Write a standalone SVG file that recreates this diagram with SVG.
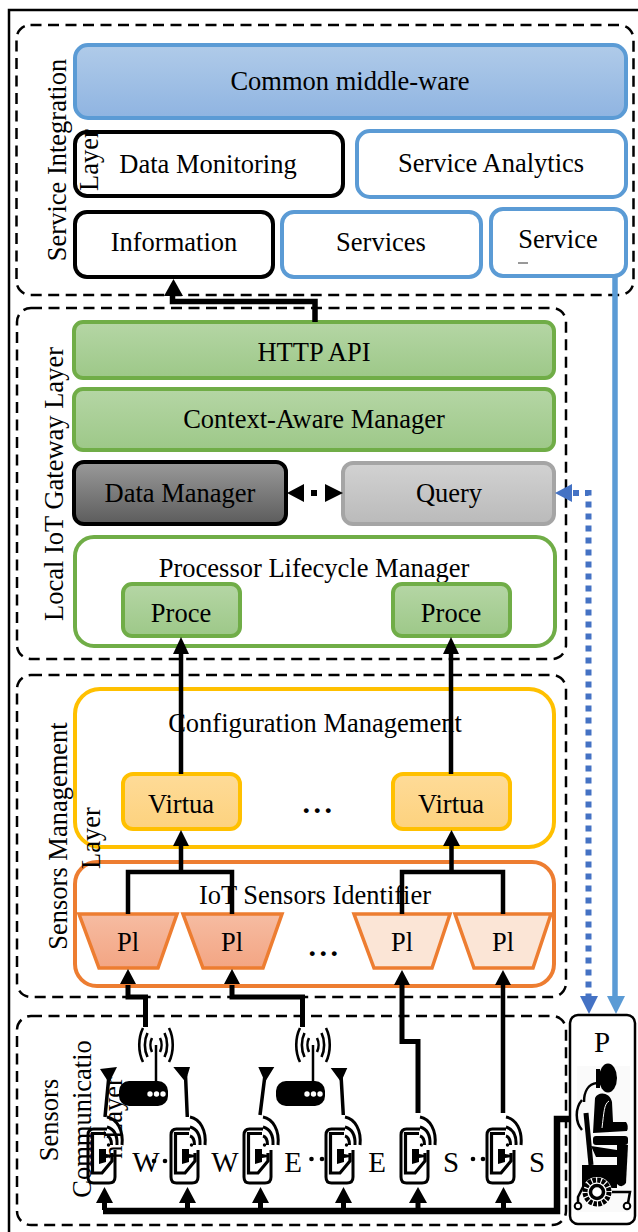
<svg xmlns="http://www.w3.org/2000/svg" width="638" height="1232" viewBox="0 0 638 1232">
<style>
text{font-family:"Liberation Serif","Times New Roman",serif;font-size:26.500px;fill:#000;text-anchor:middle}
.dash{fill:none;stroke:#000;stroke-width:2.500;stroke-dasharray:11 6.500}
.n{stroke-width:4}
.blue{stroke:#5b9bd5}.blk{stroke:#000}.grn{stroke:#70ad47}.w{fill:#fff}
.c{fill:none;stroke:#000;stroke-width:4.500}
.ant{fill:none;stroke:#000;stroke-width:2.600}
.big{font-size:29px}
.dots{font-size:30px;font-weight:bold;letter-spacing:3.500px}
</style>
<defs>
<linearGradient id="gb" x1="0" y1="0" x2="0" y2="1"><stop offset="0" stop-color="#b0cbe9"/><stop offset="1" stop-color="#8fb4e1"/></linearGradient>
<linearGradient id="gg" x1="0" y1="0" x2="0" y2="1"><stop offset="0" stop-color="#b5d6a5"/><stop offset="1" stop-color="#9dc888"/></linearGradient>
<linearGradient id="gd" x1="0" y1="0" x2="0" y2="1"><stop offset="0" stop-color="#9a9a9a"/><stop offset="1" stop-color="#5c5c5c"/></linearGradient>
<linearGradient id="gq" x1="0" y1="0" x2="0" y2="1"><stop offset="0" stop-color="#d2d2d2"/><stop offset="1" stop-color="#bababa"/></linearGradient>
<linearGradient id="gy" x1="0" y1="0" x2="0" y2="1"><stop offset="0" stop-color="#fedb98"/><stop offset="1" stop-color="#fdd27e"/></linearGradient>
<linearGradient id="go" x1="0" y1="0" x2="0" y2="1"><stop offset="0" stop-color="#f6bca2"/><stop offset="1" stop-color="#f3a583"/></linearGradient>
<g id="tag">
<path d="M20 9H6.500Q1 9 1 15V57Q1 63 6.500 63H22Q28 63 28 57V30" fill="none" stroke="#000" stroke-width="3"/>
<path d="M19 13.500H5.500V53H15L25 41V33" fill="none" stroke="#000" stroke-width="3.200"/>
<path d="M12 29H19V34L25 35V37L19 38V42L12 44Z" fill="#000"/>
<path d="M20 -3C30 -1 36.500 10 35 25M20 7C27 9 30.500 15 30 25M20 16C23.500 17 24.500 21 24.500 25" fill="none" stroke="#000" stroke-width="3"/>
<circle cx="21.500" cy="25" r="1.700" fill="#000"/>
</g>
<g id="router">
<rect x="0" y="55" width="49" height="25" rx="10" fill="#000"/>
<circle cx="31" cy="68" r="2.700" fill="#fff"/><circle cx="37.500" cy="68" r="2.700" fill="#fff"/><circle cx="44" cy="68" r="2.700" fill="#fff"/>
<path d="M37 19V57" stroke="#000" stroke-width="2.500"/>
<path d="M33 12C31 16 31 22 33 26M41 12C43 16 43 22 41 26M28.500 7C25 14 25 24 28.500 31M45.500 7C49 14 49 24 45.500 31M24 2C19 12 19 26 24 36M50 2C55 12 55 26 50 36" class="ant"/>
</g>
</defs>

<path d="M9 1232V10H638" fill="none" stroke="#000" stroke-width="2.500"/>

<g id="layers">
<rect class="dash" x="16.500" y="25" width="617" height="270" rx="14"/>
<rect class="dash" x="17" y="308" width="549" height="351" rx="14"/>
<rect class="dash" x="17" y="675" width="549" height="322" rx="14"/>
<rect class="dash" x="17" y="1016" width="549" height="209" rx="14"/>
</g>

<g id="common"><rect class="n blue" x="75" y="45" width="551" height="73" rx="13" fill="url(#gb)"/><text x="350" y="90">Common middle-ware</text></g>
<g id="monitoring"><rect class="n blk w" x="75" y="132" width="268" height="64" rx="12"/><text x="208" y="173">Data Monitoring</text></g>
<g id="analytics"><rect class="n blue w" x="357" y="131" width="269" height="66" rx="13"/><text x="491" y="172">Service Analytics</text></g>
<g id="information"><rect class="n blk w" x="75" y="212" width="198" height="65" rx="12"/><text x="174" y="251">Information</text></g>
<g id="services"><rect class="n blue w" x="282" y="212" width="199" height="65" rx="12"/><text x="381" y="251">Services</text></g>
<g id="service"><rect class="n blue w" x="491" y="209" width="135" height="67" rx="12"/><text x="558" y="248">Service</text><path d="M518 263H528" stroke="#333" stroke-width="1"/></g>

<g id="http"><rect class="n grn" x="74" y="322" width="480" height="56" rx="9" fill="url(#gg)"/><text x="314" y="361">HTTP API</text></g>
<g id="context"><rect class="n grn" x="74" y="389" width="480" height="61" rx="9" fill="url(#gg)"/><text x="314" y="428">Context-Aware Manager</text></g>
<g id="datamgr"><rect class="n blk" x="74" y="462" width="212" height="62" rx="10" fill="url(#gd)"/><text x="180" y="502">Data Manager</text></g>
<g id="query"><rect x="343" y="463" width="211" height="61" rx="10" fill="url(#gq)" stroke="#a5a5a5" stroke-width="4"/><text x="449" y="502">Query</text></g>
<g id="lifecycle"><rect class="n grn w" x="75" y="537" width="480" height="109" rx="19"/><text x="314" y="577">Processor Lifecycle Manager</text></g>
<g id="proc1"><rect class="n grn" x="123" y="584" width="117" height="52" rx="9" fill="url(#gg)"/><text x="181" y="622">Proce</text></g>
<g id="proc2"><rect class="n grn" x="393" y="584" width="117" height="52" rx="9" fill="url(#gg)"/><text x="451" y="622">Proce</text></g>

<g id="config"><rect x="75" y="689" width="479" height="158" rx="25" fill="#fff" stroke="#ffc000" stroke-width="4"/><text x="315" y="732">Configuration Management</text></g>
<g id="virt1"><rect x="123" y="774" width="117" height="55" rx="10" fill="url(#gy)" stroke="#ffc000" stroke-width="4"/><text x="181" y="813">Virtua</text></g>
<g id="virt2"><rect x="393" y="774" width="117" height="55" rx="10" fill="url(#gy)" stroke="#ffc000" stroke-width="4"/><text x="451" y="813">Virtua</text></g>
<g id="iot"><rect x="75" y="862" width="479" height="124" rx="22" fill="#fff" stroke="#ed7d31" stroke-width="4"/><text x="315" y="904">IoT Sensors Identifier</text></g>
<g id="pl1"><path d="M79 914H177L158 968H99Z" fill="url(#go)" stroke="#ed7d31" stroke-width="3.500"/><text x="128" y="951">Pl</text></g>
<g id="pl2"><path d="M183 914H282L263 968H203Z" fill="url(#go)" stroke="#ed7d31" stroke-width="3.500"/><text x="232" y="951">Pl</text></g>
<g id="pl3"><path d="M354 914H450L432 968H374Z" fill="#fbe5d6" stroke="#ed7d31" stroke-width="3.500"/><text x="402" y="951">Pl</text></g>
<g id="pl4"><path d="M455 914H551L533 968H474Z" fill="#fbe5d6" stroke="#ed7d31" stroke-width="3.500"/><text x="503" y="951">Pl</text></g>

<g id="connectors">
<path class="c" d="M315 322V301.500H172.500V292" style="stroke-width:5.500"/><path d="M164 296H183L173.500 279Z" fill="#000"/>
<path class="c" d="M181 774V650"/><path d="M173 654H189L181 637Z" fill="#000"/>
<path class="c" d="M451 774V650"/><path d="M443 654H459L451 637Z" fill="#000"/>
<path class="c" d="M128 914V872H232V914M181 872V845"/><path d="M173 846H189L181 830Z" fill="#000"/>
<path class="c" d="M402 914V872H503V914M451.500 872V845"/><path d="M443 846H460L451.500 830Z" fill="#000"/>
<path class="c" d="M128 985V997H145.500V1027" style="stroke-width:5"/><path d="M120 984H136L128 969Z" fill="#000"/>
<path class="c" d="M232 985V997H302.500V1027" style="stroke-width:5"/><path d="M224 984H240L232 969Z" fill="#000"/>
<path class="c" d="M402 985V1041.500H418V1113" style="stroke-width:5"/><path d="M394 985H410L402 970Z" fill="#000"/>
<path class="c" d="M503 985V1113"/><path d="M495 985H511L503 970Z" fill="#000"/>
<path d="M103 1211H557V1119H570" fill="none" stroke="#000" stroke-width="6.500"/>
<path d="M96 1203H113L104.500 1187Z M179 1203H196L187.500 1187Z M252 1203H269L260.500 1187Z M335 1203H352L343.500 1187Z M409 1203H427L418 1187Z M495 1203H512L503.500 1187Z" fill="#000"/>
<path d="M104.500 1203V1210M187.500 1203V1210M260.500 1203V1210M343.500 1203V1210M418 1203V1210M503.500 1203V1210" stroke="#000" stroke-width="5"/>
<rect x="311" y="490" width="6" height="6" fill="#000"/>
<path d="M287 493L304 484V502Z M343 493L325 484V502Z" fill="#000"/>
<path d="M573 493H588.500V998" fill="none" stroke="#4472c4" stroke-width="6" stroke-dasharray="6 6"/>
<path d="M555 493L572 484V502Z" fill="#4472c4"/>
<path d="M580 996H598L589 1014Z" fill="#4472c4"/>
<path d="M615 276V998" fill="none" stroke="#5b9bd5" stroke-width="5.500"/>
<path d="M607 996H625L616 1014Z" fill="#5b9bd5"/>
</g>

<g id="router1"><use href="#router" x="119" y="1026"/></g>
<g id="router2"><use href="#router" x="276" y="1026"/></g>
<g id="antennas">
<path d="M109 1075L105 1117M185.500 1075L187.300 1117M265 1075L260 1115M341 1075L343.300 1115" stroke="#000" stroke-width="3.500"/>
<path d="M100 1069L117 1067L109 1083Z M173.300 1067H190L185.500 1082Z M258.300 1067H274.300L265 1082Z M330.700 1068H347.300L341 1082Z" fill="#000"/>
</g>

<g id="s1"><use href="#tag" x="87" y="1120"/><text class="big" x="146" y="1172">W</text></g>
<g id="s2"><use href="#tag" x="170" y="1120"/><text class="big" x="225" y="1172">W</text></g>
<g id="s3"><use href="#tag" x="243" y="1120"/><text class="big" x="293" y="1172">E</text></g>
<g id="s4"><use href="#tag" x="325" y="1120"/><text class="big" x="377" y="1172">E</text></g>
<g id="s5"><use href="#tag" x="400" y="1120"/><text class="big" x="451" y="1172">S</text></g>
<g id="s6"><use href="#tag" x="486" y="1120"/><text class="big" x="537" y="1172">S</text></g>
<g id="dots" fill="#000">
<circle cx="154" cy="1161" r="2.300"/><circle cx="165" cy="1161" r="2.300"/>
<circle cx="311.500" cy="1159" r="2.300"/><circle cx="322" cy="1159" r="2.300"/>
<circle cx="473" cy="1159" r="2.300"/><circle cx="483" cy="1159" r="2.300"/>
<text class="dots" x="319" y="813">...</text>
<text class="dots" x="325" y="956">...</text>
</g>

<g id="patient">
<rect x="570" y="1015" width="65" height="209" rx="8" fill="#fff" stroke="#000" stroke-width="2.500"/>
<text class="big" x="602" y="1052">P</text>
<rect x="577" y="1066" width="53" height="146" fill="#fafafa"/>
<ellipse cx="608" cy="1078" rx="9" ry="14.500" fill="#000"/>
<path d="M598 1069V1088" stroke="#000" stroke-width="4"/>
<path d="M597 1083C588 1084 584 1092 584 1102" fill="none" stroke="#000" stroke-width="2.500"/>
<path d="M595 1098C598 1091 610 1092 612 1102L613 1122H626Q629 1126 627 1131L593 1133Z" fill="#000"/>
<path d="M602 1128C604 1112 604 1104 609 1101" fill="none" stroke="#fff" stroke-width="1"/>
<path d="M582 1100C575 1108 575 1122 582 1130" fill="none" stroke="#000" stroke-width="2.500"/>
<path d="M586 1113L591 1165" stroke="#000" stroke-width="5"/>
<rect x="593" y="1136" width="35" height="9" rx="3" fill="#000"/>
<path d="M617 1145H628L626 1183Q622 1189 617 1184Z" fill="#000"/>
<path d="M591 1146L617 1150V1157L596 1157Z" fill="#000"/>
<path d="M582 1165H617V1188H582Z" fill="#000"/>
<circle cx="597" cy="1192" r="15" fill="#fff"/>
<circle cx="597" cy="1192" r="12" fill="none" stroke="#000" stroke-width="5" stroke-dasharray="3.500 1.200"/>
<circle cx="597" cy="1192" r="6.500" fill="none" stroke="#000" stroke-width="3.500"/>
<path d="M612 1192H630L628 1203M585 1183L578 1197V1203" fill="none" stroke="#000" stroke-width="2.500"/>
<circle cx="578" cy="1206" r="3.300" fill="#fff" stroke="#000" stroke-width="2"/>
<circle cx="627" cy="1206" r="3.300" fill="#fff" stroke="#000" stroke-width="2"/>
</g>

<g id="layer-labels">
<text transform="translate(66,160) rotate(-90)">Service Integration</text>
<text transform="translate(98,160) rotate(-90)">Layer</text>
<text transform="translate(63,484) rotate(-90)">Local IoT  Gateway Layer</text>
<text transform="translate(67,836) rotate(-90)">Sensors Management</text>
<text transform="translate(100,838) rotate(-90)">Layer</text>
<text transform="translate(58,1120) rotate(-90)">Sensors</text>
<text transform="translate(91,1119) rotate(-90)">Communicatio</text>
<text transform="translate(122,1118) rotate(-90)">n Layer</text>
</g>
</svg>
